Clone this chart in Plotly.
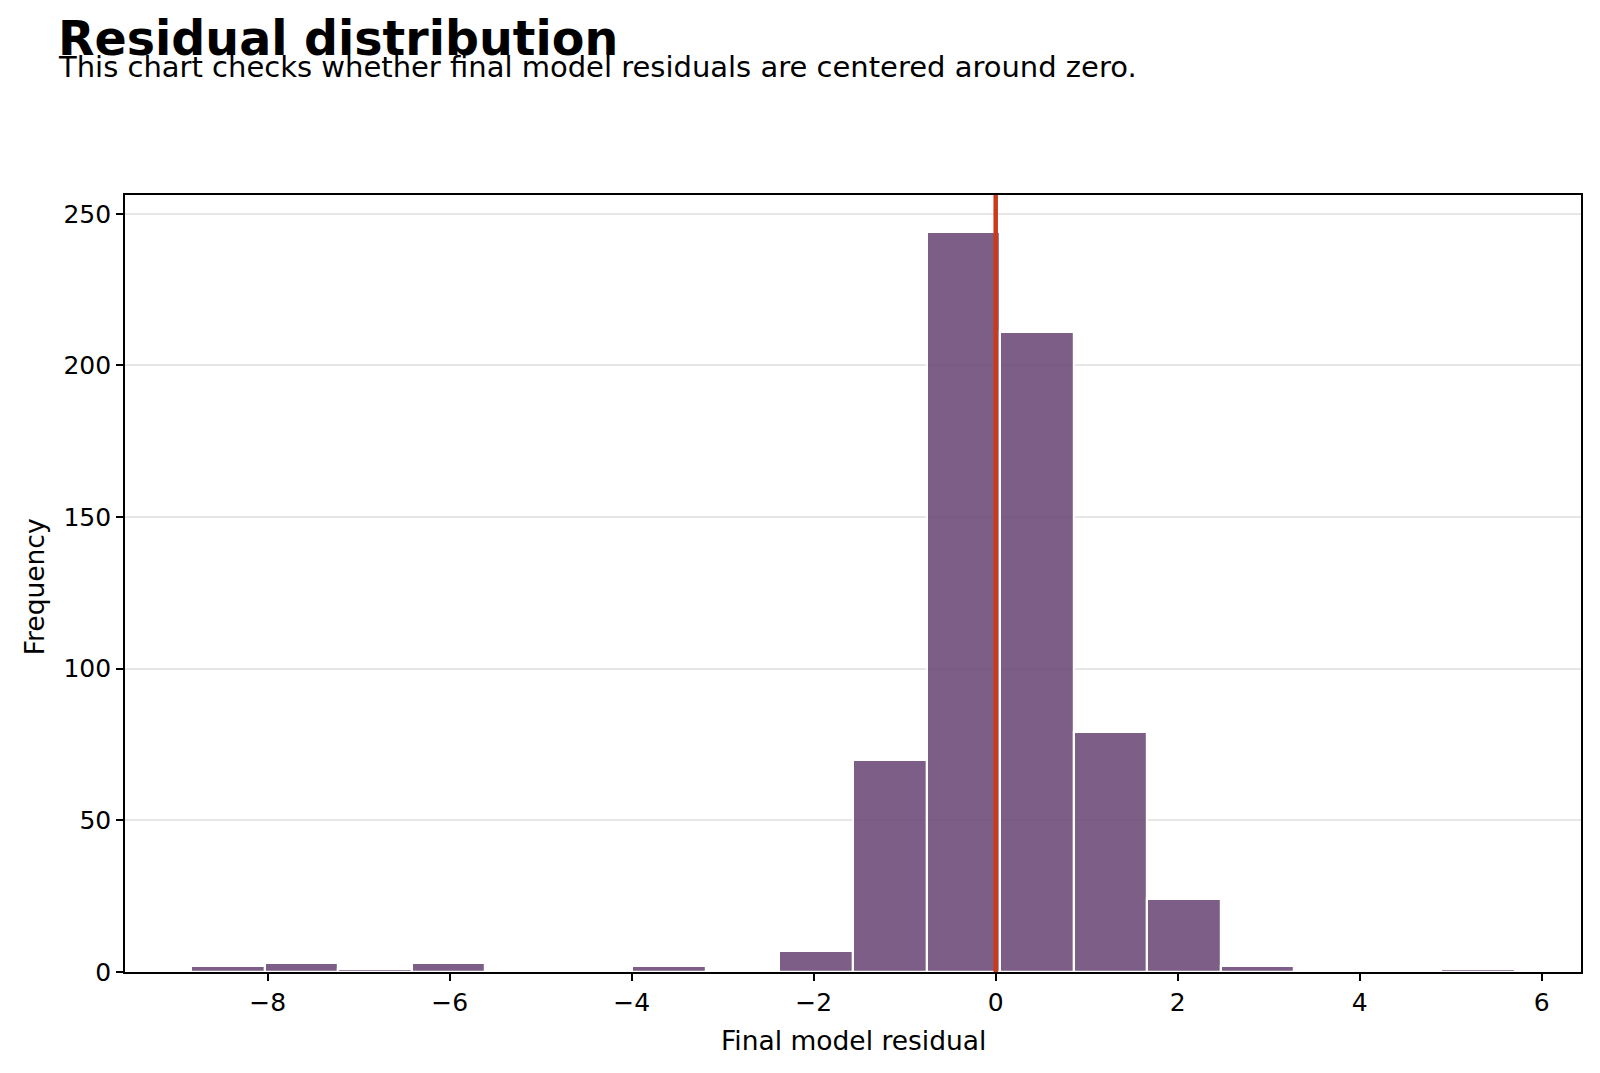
import plotly.graph_objects as go

# Histogram data
bin_start = -8.84
bin_width = 0.808
counts = [2, 3, 1, 3, 0, 0, 2, 0, 7, 70, 244, 211, 79, 24, 2, 0, 0, 1]
x_ticks = [-8, -6, -4, -2, 0, 2, 4, 6]
y_ticks = [0, 50, 100, 150, 200, 250]

centers = [bin_start + bin_width * (i + 0.5) for i in range(len(counts))]
x_lo = bin_start - 0.05 * bin_width * len(counts)
x_hi = bin_start + bin_width * len(counts) * 1.05
y_hi = max(counts) * 1.05

FONT = "DejaVu Sans"

fig = go.Figure()
fig.add_trace(go.Bar(
    x=centers, y=counts, width=[bin_width] * len(counts),
    marker=dict(color="#6f4d7a", opacity=0.9, line=dict(color="white", width=2.2)),
    showlegend=False,
))

fig.add_shape(type="line", xref="x", yref="paper", x0=0, x1=0, y0=0, y1=1,
              line=dict(color="#c93a1c", width=4.5))

L, R, T, B = 124.5, 19.4, 195, 100.6
W, H = 1600, 1073
pw, ph = W - L - R, H - T - B

def px_x(px):
    return (px - L) / pw

def px_y(py):
    return (H - B - py) / ph

fig.update_layout(
    width=W, height=H,
    margin=dict(l=L, r=R, t=T, b=B, pad=0),
    paper_bgcolor="white", plot_bgcolor="white",
    font=dict(family=FONT, color="black"),
    bargap=0,
    xaxis=dict(range=[x_lo, x_hi], tickvals=x_ticks, showgrid=False, zeroline=False,
               showline=True, linecolor="black", linewidth=1.6, mirror=True,
               ticks="outside", ticklen=7, tickwidth=1.5, tickcolor="black",
               tickfont=dict(size=25, family=FONT)),
    yaxis=dict(range=[0, y_hi], tickvals=y_ticks, showgrid=True, gridcolor="#e6e6e6",
               gridwidth=1.5, zeroline=False,
               showline=True, linecolor="black", linewidth=1.6, mirror=True,
               ticks="outside", ticklen=7, tickwidth=1.5, tickcolor="black",
               tickfont=dict(size=25, family=FONT)),
    annotations=[
        dict(text="<b>Residual distribution</b>", xref="paper", yref="paper",
             x=px_x(55), y=px_y(68), xanchor="left", yanchor="bottom",
             showarrow=False, font=dict(size=47.5, family=FONT)),
        dict(text="This chart checks whether final model residuals are centered around zero.",
             xref="paper", yref="paper", x=px_x(55), y=px_y(86),
             xanchor="left", yanchor="bottom", showarrow=False,
             font=dict(size=29, family=FONT)),
        dict(text="Final model residual", xref="paper", yref="paper",
             x=0.5, y=px_y(1041), xanchor="center", yanchor="middle",
             showarrow=False, font=dict(size=26.5, family=FONT)),
        dict(text="Frequency", xref="paper", yref="paper",
             x=px_x(34), y=px_y(587), xanchor="center", yanchor="middle",
             textangle=-90, showarrow=False, font=dict(size=26.5, family=FONT)),
    ],
)

fig.write_html("out.html")
